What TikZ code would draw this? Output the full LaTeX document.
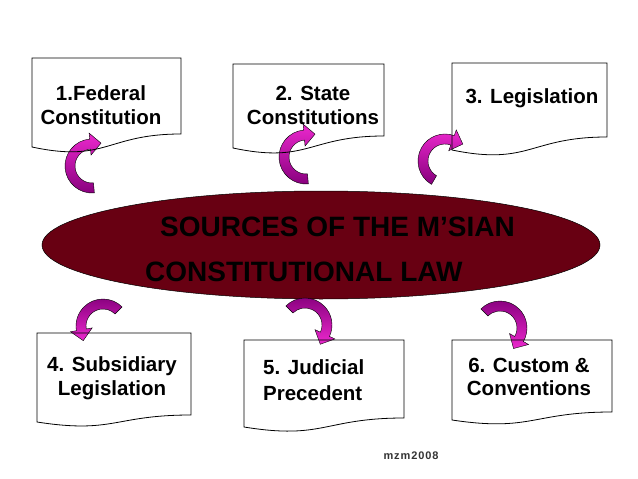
\documentclass[tikz,border=0pt]{standalone}
\usepackage{fontspec}
\setmainfont{Liberation Sans}
\usetikzlibrary{calc,shapes.geometric}
\definecolor{ovalred}{RGB}{104,0,18}
\definecolor{hotmag}{RGB}{235,40,205}
\definecolor{deeppur}{RGB}{135,0,125}
\tikzset{
  boxfill/.style={fill=white},
  boxline/.style={draw=black,line width=0.8pt},
  uparrow/.style={draw=black,line width=0.4pt,top color=hotmag,bottom color=deeppur},
  downarrow/.style={draw=black,line width=0.4pt,top color=deeppur,bottom color=hotmag},
  boxtext/.style={font=\fontsize{20.5}{24}\selectfont\bfseries,inner sep=0pt,anchor=base},
  boxtextl/.style={boxtext,anchor=base west},
  ovaltext/.style={font=\fontsize{28}{32}\selectfont\bfseries,inner sep=0pt,anchor=base west},
}
% document shape: style, left, top, right, right-bottom y, left-bottom y, dip control y
\newcommand\docshape[7]{\path[#1] (#2,#3) -- (#4,#3) -- (#4,#5) .. controls ({(#2+#4)/2},#5) and ({(#2+#4)/2},#7) .. (#2,#6) -- cycle;}
% curved block arrow: style, cx, cy, tail angle, head angle, +90/-90
\newcommand\curvarr[6]{\path[#1] ($(#2,#3)+(#4:27)$) arc[start angle=#4,end angle=#5,radius=27]
  -- ($(#2,#3)+(#5:33)$) -- ($(#2,#3)+(#5:22)+({#5#6}:11)$) -- ($(#2,#3)+(#5:11)$)
  -- ($(#2,#3)+(#5:17)$) arc[start angle=#5,end angle=#4,radius=17] -- cycle;}
\begin{document}
\begin{tikzpicture}[x=1pt,y=-1pt]
\useasboundingbox[fill=white] (0,0) rectangle (638,479);
% box fills
\docshape{boxfill}{32}{58}{181}{134}{147}{163}
\docshape{boxfill}{233}{64}{384}{136}{148}{164}
\docshape{boxfill}{452}{63}{607}{137}{150}{166}
\docshape{boxfill}{37}{333}{191}{415}{422}{434}
\docshape{boxfill}{244}{340}{404}{418}{427}{440}
\docshape{boxfill}{452}{340}{612}{412}{420}{432}
% central ellipse
\node (oval) [draw=black,line width=0.5pt,fill=ovalred,ellipse,minimum width=558pt,minimum height=108pt,inner sep=0pt] at (321,245) {};
\node (t1) [ovaltext] at (160,236) {SOURCES OF THE M’SIAN};
\node (t2) [ovaltext] at (145,281) {CONSTITUTIONAL LAW};
% curved arrows
\curvarr{uparrow}{92}{166}{85}{265}{+90}
\curvarr{uparrow}{306}{157}{85}{265}{+90}
\curvarr{uparrow}{445}{161}{120}{290}{+90}
\curvarr{downarrow}{103}{326}{315}{170}{-90}
\curvarr{downarrow}{305}{325}{225}{385}{+90}
\curvarr{downarrow}{500}{328}{225}{390}{+90}
% box outlines
\docshape{boxline}{32}{58}{181}{134}{147}{163}
\docshape{boxline}{233}{64}{384}{136}{148}{164}
\docshape{boxline}{452}{63}{607}{137}{150}{166}
\docshape{boxline}{37}{333}{191}{415}{422}{434}
\docshape{boxline}{244}{340}{404}{418}{427}{440}
\docshape{boxline}{452}{340}{612}{412}{420}{432}
% box texts
\node (b1a) [boxtext] at (101,100) {1.Federal};
\node (b1b) [boxtext] at (101,124) {Constitution};
\node (b2a) [boxtext] at (313,100) {2. State};
\node (b2b) [boxtext] at (313,124) {Constitutions};
\node (b3a) [boxtext] at (532,103) {3. Legislation};
\node (b4a) [boxtext] at (112,371) {4. Subsidiary};
\node (b4b) [boxtext] at (112,395) {Legislation};
\node (b5a) [boxtextl] at (263,374) {5. Judicial};
\node (b5b) [boxtextl] at (263,400) {Precedent};
\node (b6a) [boxtext] at (529,372) {6. Custom \&};
\node (b6b) [boxtext] at (529,395) {Conventions};
\node (sig) [font=\fontsize{11}{13}\selectfont\bfseries\addfontfeatures{LetterSpace=8},text=black!80,inner sep=0pt,anchor=base] at (411,459) {mzm2008};
\end{tikzpicture}
\end{document}
